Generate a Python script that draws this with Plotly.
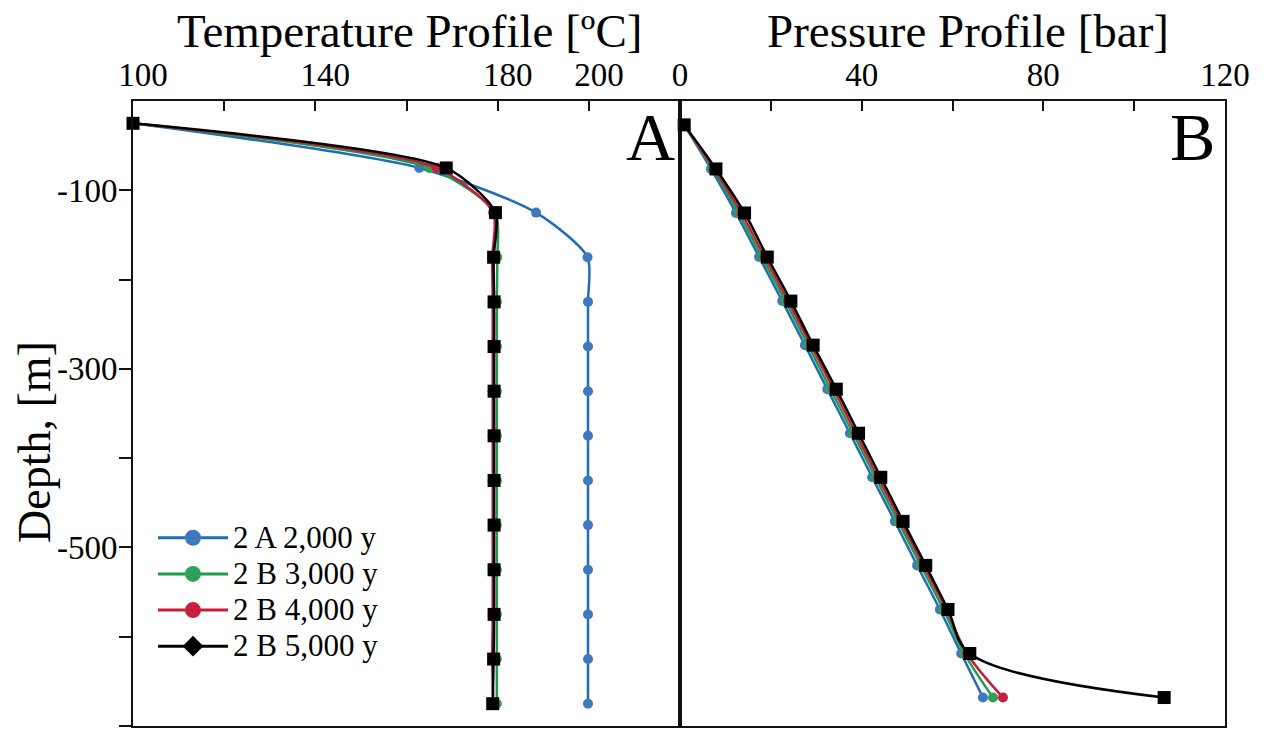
import plotly.graph_objects as go

# ---------------- data ----------------
depth = [-25, -75, -125, -175, -225, -275, -325, -375, -425, -475, -525, -575, -625, -675]

series_names = ["2 A 2,000 y", "2 B 3,000 y", "2 B 4,000 y", "2 B 5,000 y"]

temp_2A_2000 = [100, 162.8, 188.4, 199.7, 199.8, 199.8, 199.8, 199.8, 199.8, 199.8, 199.8, 199.8, 199.8, 199.8]
temp_2B_3000 = [100, 165.0, 179.5, 179.9, 179.8, 179.8, 179.8, 179.8, 179.8, 179.8, 179.8, 179.8, 179.8, 179.8]
temp_2B_4000 = [100, 166.6, 179.0, 178.8, 178.9, 178.9, 178.9, 178.9, 178.9, 178.9, 178.9, 178.9, 178.8, 179.0]
temp_2B_5000 = [100, 168.7, 179.5, 179.1, 179.2, 179.2, 179.2, 179.2, 179.2, 179.2, 179.2, 179.2, 179.1, 178.9]

pres_2A_2000 = [0.9, 6.8, 12.3, 17.4, 22.5, 27.5, 32.4, 37.4, 42.3, 47.3, 52.2, 57.2, 61.9, 66.7]
pres_2B_3000 = [0.9, 7.2, 12.9, 18.0, 23.2, 28.2, 33.1, 38.1, 43.0, 48.0, 53.0, 58.0, 62.6, 68.9]
pres_2B_4000 = [0.9, 7.5, 13.5, 18.6, 23.8, 28.8, 33.8, 38.7, 43.6, 48.6, 53.6, 58.6, 63.2, 71.1]
pres_2B_5000 = [0.9, 7.9, 14.2, 19.2, 24.4, 29.3, 34.4, 39.3, 44.2, 49.1, 54.1, 59.0, 63.8, 106.6]

temp_ticks = [100, 120, 140, 160, 180, 200]
temp_ticktext = ["100", "", "140", "", "180", "200"]
pres_ticks = [0, 20, 40, 60, 80, 100, 120]
pres_ticktext = ["0", "", "40", "", "80", "", "120"]
depth_ticks = [-700, -600, -500, -400, -300, -200, -100]
depth_ticktext = ["-700", "", "-500", "", "-300", "", "-100"]

# ---------------- styles ----------------
FONT = "Liberation Serif"
line_colors = ["#1f6db5", "#1e9a4a", "#c81b3a", "#000000"]
marker_colors = ["#3f78bf", "#2ea05a", "#c8203c", "#000000"]
symbols = ["circle", "circle", "circle", "square"]
legend_symbols = ["circle", "circle", "circle", "diamond"]
msize = [10, 10, 10, 13]

W, H = 1272, 739
L, R, T, B = 133, 47, 101, 11
PW = W - L - R
PH = H - T - B


def px(x):
    return (x - L) / PW


def py(y):
    return (H - B - y) / PH


SPLIT = 0.501

fig = go.Figure()

temps = [temp_2A_2000, temp_2B_3000, temp_2B_4000, temp_2B_5000]
press = [pres_2A_2000, pres_2B_3000, pres_2B_4000, pres_2B_5000]

for i in range(4):
    fig.add_trace(go.Scatter(
        x=temps[i], y=depth, mode="lines+markers", xaxis="x", yaxis="y",
        line=dict(color=line_colors[i], width=2.5, shape="spline", smoothing=0.7),
        marker=dict(symbol=symbols[i], size=msize[i], color=marker_colors[i],
                    line=dict(width=0)),
        showlegend=False, cliponaxis=False, name=series_names[i]))

for i in range(4):
    fig.add_trace(go.Scatter(
        x=press[i], y=depth, mode="lines+markers", xaxis="x2", yaxis="y2",
        line=dict(color=line_colors[i], width=2.5, shape="spline", smoothing=1),
        marker=dict(symbol=symbols[i], size=msize[i], color=marker_colors[i],
                    line=dict(width=0)),
        showlegend=False, cliponaxis=False, name=series_names[i]))

# legend entries
for i in range(4):
    fig.add_trace(go.Scatter(
        x=[None], y=[None], mode="lines+markers", xaxis="x", yaxis="y",
        line=dict(color=line_colors[i], width=3),
        marker=dict(symbol=legend_symbols[i], size=16, color=marker_colors[i]),
        name='<span style="font-size:31px">' + series_names[i] + '</span>'))

axis_common = dict(showgrid=False, zeroline=False, showline=True, linecolor="#111111",
                   linewidth=2, mirror=True, tickcolor="#111111",
                   tickfont=dict(family=FONT, size=33, color="black"))

fig.update_layout(
    width=W, height=H,
    margin=dict(l=L, r=R, t=T, b=B, pad=0),
    paper_bgcolor="white", plot_bgcolor="white",
    font=dict(family=FONT, color="black"),
    xaxis=dict(domain=[0, SPLIT], range=[100, 220], side="top", anchor="y",
               ticks="inside", ticklen=10, tickwidth=1.5,
               tickvals=temp_ticks, ticktext=temp_ticktext, ticklabelshift=10,
               **axis_common),
    yaxis=dict(domain=[0, 1], range=[-700, 0], anchor="x",
               ticks="outside", ticklen=12, tickwidth=1.5,
               tickvals=depth_ticks, ticktext=depth_ticktext,
               ticklabelstandoff=-5,
               **axis_common),
    yaxis3=dict(overlaying="y", anchor="x", side="right", range=[-700, 0],
                ticks="inside", ticklen=10, tickwidth=1.5, tickcolor="#111111",
                tickvals=depth_ticks, showticklabels=False, showgrid=False,
                zeroline=False, showline=False),
    xaxis2=dict(domain=[SPLIT, 1], range=[0, 120], side="top", anchor="y2",
                ticks="inside", ticklen=10, tickwidth=1.5,
                tickvals=pres_ticks, ticktext=pres_ticktext,
                **axis_common),
    yaxis2=dict(domain=[0, 1], range=[-707.3, 2.1], anchor="x2",
                ticks="", showticklabels=False, showgrid=False, zeroline=False,
                showline=True, linecolor="#111111", linewidth=2, mirror=True),
    legend=dict(x=px(153), y=py(516), xanchor="left", yanchor="top",
                font=dict(family=FONT, size=25.5, color="black"),
                itemwidth=70, bgcolor="rgba(0,0,0,0)", tracegroupgap=0),
    annotations=[
        dict(text="Temperature Profile [ºC]", xref="paper", yref="paper",
             x=px(409), y=py(31), xanchor="center", yanchor="middle",
             showarrow=False, font=dict(family=FONT, size=47, color="black")),
        dict(text="Pressure Profile [bar]", xref="paper", yref="paper",
             x=px(968), y=py(31), xanchor="center", yanchor="middle",
             showarrow=False, font=dict(family=FONT, size=47, color="black")),
        dict(text="Depth, [m]", xref="paper", yref="paper",
             x=px(35), y=py(443), xanchor="center", yanchor="middle",
             textangle=-90, showarrow=False,
             font=dict(family=FONT, size=46, color="black")),
        dict(text="A", xref="paper", yref="paper",
             x=px(677), y=py(137), xanchor="right", yanchor="middle",
             showarrow=False, font=dict(family=FONT, size=68, color="black")),
        dict(text="B", xref="paper", yref="paper",
             x=px(1217), y=py(137), xanchor="right", yanchor="middle",
             showarrow=False, font=dict(family=FONT, size=68, color="black")),
    ],
)

fig.write_html("out.html")
